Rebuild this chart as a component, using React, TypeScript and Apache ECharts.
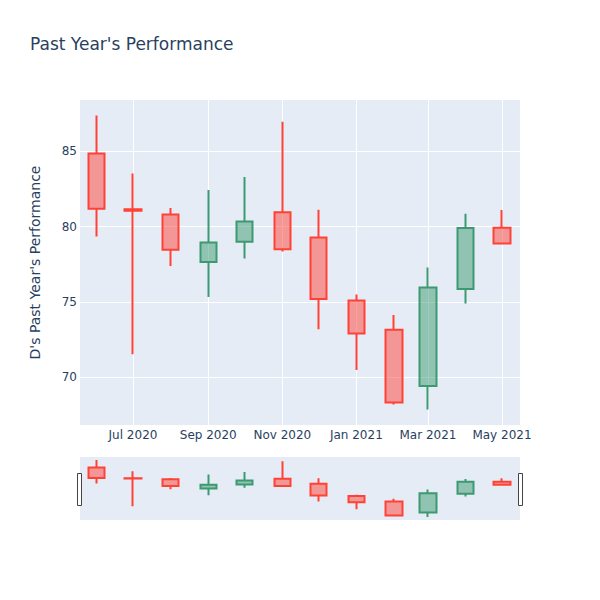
import React, { useEffect, useRef } from "react";
import * as echarts from "echarts";

const dates = [
  "2020-06-01", "2020-07-01", "2020-08-01", "2020-09-01", "2020-10-01", "2020-11-01",
  "2020-12-01", "2021-01-01", "2021-02-01", "2021-03-01", "2021-04-01", "2021-05-01",
];
const openValues = [84.85, 81.15, 80.81, 77.65, 79.0, 80.95, 79.29, 75.1, 73.17, 69.43, 75.86, 79.93];
const closeValues = [81.19, 81.05, 78.47, 78.95, 80.35, 78.51, 75.21, 72.91, 68.35, 75.96, 79.91, 78.89];
const lowValues = [79.35, 71.54, 77.4, 75.33, 77.89, 78.36, 73.2, 70.5, 68.21, 67.88, 74.9, 78.89];
const highValues = [87.37, 83.52, 81.24, 82.43, 83.3, 86.95, 81.13, 75.5, 74.15, 77.29, 80.86, 81.1];

const xTickDates = ["2020-07-01", "2020-09-01", "2020-11-01", "2021-01-01", "2021-03-01", "2021-05-01"];
const xTickLabels = ["Jul 2020", "Sep 2020", "Nov 2020", "Jan 2021", "Mar 2021", "May 2021"];
const yTicks = [70, 75, 80, 85];

const xRange = ["2020-05-18T08:00:00", "2021-05-15T20:00:00"];
const yRange = [66.85, 88.4];

const toTs = (s: string) => {
  const [datePart, timePart] = s.split("T");
  const [y, m, d] = datePart.split("-").map(Number);
  let h = 0, mi = 0;
  if (timePart) {
    const parts = timePart.split(":").map(Number);
    h = parts[0];
    mi = parts[1];
  }
  return Date.UTC(y, m - 1, d, h, mi);
};

const FONT = "DejaVu Sans";
const TEXT = "#2a3f5f";
const INC = "#3D9970";
const DEC = "#FF4136";

export default function App() {
  const ref = useRef<HTMLDivElement>(null);
  useEffect(() => {
    if (!ref.current) return;
    const chart = echarts.init(ref.current, undefined, { renderer: "svg" });
    const data = dates.map((d, i) => [toTs(d), openValues[i], closeValues[i], lowValues[i], highValues[i]]);
    const tickTs = xTickDates.map(toTs);
    const labelFor = (v: number) => {
      const idx = tickTs.findIndex((t) => Math.abs(t - v) < 1000);
      return idx >= 0 ? xTickLabels[idx] : "";
    };
    const itemStyle = {
      color: "rgba(61,153,112,0.5)",
      color0: "rgba(255,65,54,0.5)",
      borderColor: INC,
      borderColor0: DEC,
      borderWidth: 2,
    };
    chart.setOption({
      animation: false,
      backgroundColor: "#fff",
      textStyle: { fontFamily: FONT },
      title: {
        text: "Past Year's Performance",
        left: 30,
        top: 35,
        padding: 0,
        textStyle: { fontFamily: FONT, fontSize: 17, fontWeight: "normal", color: TEXT },
      },
      grid: [
        { left: 80, right: 80, top: 100, bottom: 175, show: true, backgroundColor: "#e5ecf6", borderWidth: 0, containLabel: false },
        { left: 80, right: 80, top: 457, bottom: 80, show: true, backgroundColor: "#e5ecf6", borderWidth: 0, containLabel: false },
      ],
      xAxis: [
        {
          type: "value",
          gridIndex: 0,
          min: toTs(xRange[0]),
          max: toTs(xRange[1]),
          axisLine: { show: false },
          axisTick: { show: false, customValues: tickTs },
          splitLine: { show: true, lineStyle: { color: "#fff", width: 1 } },
          axisLabel: {
            customValues: tickTs,
            formatter: (v: number) => labelFor(v),
            color: TEXT,
            fontSize: 12,
            fontFamily: FONT,
            margin: 4,
            hideOverlap: false,
          },
        },
        {
          type: "value",
          gridIndex: 1,
          min: toTs(xRange[0]),
          max: toTs(xRange[1]),
          axisLine: { show: false },
          axisTick: { show: false },
          splitLine: { show: false },
          axisLabel: { show: false },
        },
      ],
      yAxis: [
        {
          type: "value",
          gridIndex: 0,
          min: yRange[0],
          max: yRange[1],
          name: "D's Past Year's Performance",
          nameLocation: "middle",
          nameGap: 38,
          nameTextStyle: { color: TEXT, fontSize: 14, fontFamily: FONT },
          axisLine: { show: false },
          axisTick: { show: false, customValues: yTicks },
          splitLine: { show: true, lineStyle: { color: "#fff", width: 1 } },
          axisLabel: {
            customValues: yTicks,
            color: TEXT,
            fontSize: 12,
            fontFamily: FONT,
            margin: 3,
          },
        },
        {
          type: "value",
          gridIndex: 1,
          min: yRange[0],
          max: yRange[1],
          axisLine: { show: false },
          axisTick: { show: false },
          splitLine: { show: false },
          axisLabel: { show: false },
        },
      ],
      series: [
        {
          type: "candlestick",
          xAxisIndex: 0,
          yAxisIndex: 0,
          barWidth: 17,
          data,
          itemStyle,
        },
        {
          type: "candlestick",
          xAxisIndex: 1,
          yAxisIndex: 1,
          barWidth: 17,
          data,
          itemStyle,
        },
      ],
      graphic: [
        {
          type: "rect",
          shape: { x: 77.5, y: 473.5, width: 4, height: 32 },
          style: { fill: "#fff", stroke: "#444", lineWidth: 1 },
        },
        {
          type: "rect",
          shape: { x: 518.5, y: 473.5, width: 4, height: 32 },
          style: { fill: "#fff", stroke: "#444", lineWidth: 1 },
        },
      ],
    });
    return () => chart.dispose();
  }, []);
  return <div ref={ref} style={{ width: 600, height: 600, position: "absolute", left: 0, top: 0 }} />;
}
